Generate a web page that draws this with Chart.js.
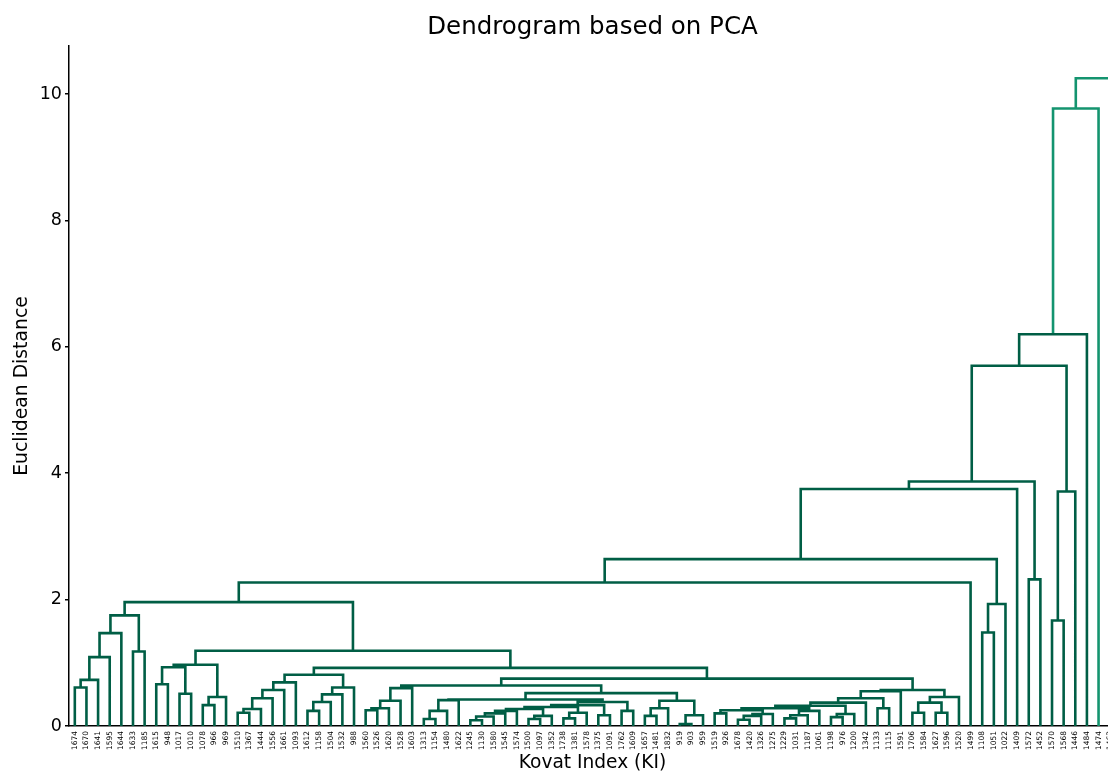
<!DOCTYPE html>
<html>
<head>
<meta charset="UTF-8">
<title>Dendrogram based on PCA</title>
<script src="https://cdn.jsdelivr.net/npm/chart.js@4.4.0/dist/chart.umd.min.js"></script>
<style>
html, body {
  margin: 0;
  padding: 0;
  overflow: hidden;
  background: #fff;
}
canvas {
  display: block;
}
</style>
</head>
<body>
<canvas id="myChart" width="1130" height="774"></canvas>
<script>
// Leaf labels (Kovat index), in dendrogram order from left to right
var leafLabels = [
"1674","1670","1641","1595","1644","1633","1185","1615","948","1017",
"1010","1078","966","969","1510","1367","1444","1556","1661","1093",
"1612","1158","1504","1532","988","1560","1526","1620","1528","1603",
"1313","1154","1480","1622","1245","1130","1580","1545","1574","1500",
"1097","1352","1738","1381","1578","1375","1091","1762","1609","1657",
"1481","1832","919","903","959","1519","926","1678","1420","1326",
"1275","1229","1031","1187","1061","1198","976","1200","1342","1133",
"1115","1591","1706","1584","1627","1596","1520","1499","1108","1051",
"1022","1409","1572","1452","1570","1568","1446","1484","1474","1463"];

// Merges as [left node, right node, distance].
// Nodes 0-89 are leaves, node 90+k is the cluster made by merges[k].
var merges = [
[0,1,0.61],[90,2,0.73],[91,3,1.09],[92,4,1.47],[5,6,1.18],[93,94,1.75],
[7,8,0.66],[9,10,0.51],[96,97,0.93],[11,12,0.33],[99,13,0.46],[98,100,0.97],
[14,15,0.21],[102,16,0.27],[103,17,0.44],[104,18,0.57],[105,19,0.69],
[20,21,0.24],[107,22,0.38],[108,23,0.50],[109,24,0.61],[106,110,0.81],
[25,26,0.25],[112,27,0.28],[113,28,0.40],[114,29,0.60],
[30,31,0.11],[116,32,0.24],[117,33,0.41],
[34,35,0.09],[119,36,0.15],[120,37,0.20],[121,38,0.24],
[39,40,0.11],[123,41,0.16],
[42,43,0.12],[125,44,0.21],
[45,46,0.17],
[47,48,0.24],
[122,124,0.27],[129,126,0.30],[130,127,0.33],[131,128,0.38],[118,132,0.42],
[49,50,0.16],[134,51,0.28],[52,53,0.03],[136,54,0.17],[135,137,0.40],
[133,138,0.52],[115,139,0.64],
[55,56,0.20],[57,58,0.10],[142,59,0.16],[143,60,0.19],[141,144,0.25],
[61,62,0.12],[146,63,0.17],[147,64,0.24],[145,148,0.28],
[65,66,0.14],[150,67,0.19],[149,151,0.32],[152,68,0.37],
[69,70,0.28],[153,154,0.44],[155,71,0.55],
[72,73,0.21],[74,75,0.21],[157,158,0.37],[159,76,0.46],[156,160,0.57],
[140,161,0.75],[111,162,0.92],[101,163,1.19],[95,164,1.96],
[165,77,2.27],[78,79,1.48],[167,80,1.93],[166,168,2.64],[169,81,3.75],
[82,83,2.32],[170,171,3.87],[84,85,1.67],[173,86,3.71],[172,174,5.70],
[175,87,6.20],[176,88,9.77],[177,89,10.25]];

var yTicks = [0, 2, 4, 6, 8, 10];
var chartTitle = "Dendrogram based on PCA";

// links from this merge on are drawn in the lighter colour
var lightFrom = 87;
var darkColor = "#005e45";
var lightColor = "#14946f";

// Work out link shapes: leaf i sits at 5 + 10*i, a cluster sits midway
var nodeX = [];
var nodeY = [];
for (var i = 0; i < leafLabels.length; i++) {
    nodeX.push(5 + 10 * i);
    nodeY.push(0);
}
var darkLinks = [];
var lightLinks = [];
for (var k = 0; k < merges.length; k++) {
    var a = merges[k][0], b = merges[k][1], h = merges[k][2];
    var seg = [
        {x: nodeX[a], y: nodeY[a]},
        {x: nodeX[a], y: h},
        {x: nodeX[b], y: h},
        {x: nodeX[b], y: nodeY[b]},
        {x: nodeX[b], y: null}   // gap before the next link
    ];
    nodeX.push((nodeX[a] + nodeX[b]) / 2);
    nodeY.push(h);
    var target = k >= lightFrom ? lightLinks : darkLinks;
    for (var j = 0; j < seg.length; j++) target.push(seg[j]);
}

// title centred over the plot area, like matplotlib does
var titlePlugin = {
    id: 'plotTitle',
    afterDraw: function(chart) {
        var ctx = chart.ctx, area = chart.chartArea;
        ctx.save();
        ctx.font = '24.5px "DejaVu Sans"';
        ctx.fillStyle = '#000';
        ctx.textAlign = 'center';
        ctx.textBaseline = 'middle';
        ctx.fillText(chartTitle, (area.left + area.right) / 2, 28);
        ctx.restore();
    }
};

function linkSet(points, color) {
    return {
        data: points,
        showLine: true,
        spanGaps: false,
        borderColor: color,
        borderWidth: 2.6,
        borderJoinStyle: 'miter',
        borderCapStyle: 'butt',
        pointRadius: 0,
        pointHoverRadius: 0,
        fill: false,
        tension: 0
    };
}

new Chart(document.getElementById("myChart"), {
    type: 'scatter',
    data: {
        datasets: [linkSet(darkLinks, darkColor), linkSet(lightLinks, lightColor)]
    },
    options: {
        responsive: false,
        animation: false,
        layout: {padding: {top: 46, right: 14, left: 0, bottom: 0}},
        plugins: {
            legend: {display: false},
            tooltip: {enabled: false}
        },
        scales: {
            x: {
                type: 'linear',
                min: 0,
                max: leafLabels.length * 10,
                afterBuildTicks: function(axis) {
                    axis.ticks = leafLabels.map(function(l, i) { return {value: 5 + 10 * i}; });
                },
                afterFit: function(axis) { axis.height = 48; },
                ticks: {
                    autoSkip: false,
                    minRotation: 90,
                    maxRotation: 90,
                    padding: 5,
                    color: '#000',
                    font: {size: 7.5, family: 'DejaVu Sans'},
                    callback: function(v, i) { return leafLabels[i]; }
                },
                grid: {drawOnChartArea: false, drawTicks: false},
                border: {display: true, color: '#000', width: 1.5},
                title: {
                    display: true,
                    text: 'Kovat Index (KI)',
                    color: '#000',
                    font: {size: 18.6, family: 'DejaVu Sans'},
                    padding: {top: 0, bottom: 0}
                }
            },
            y: {
                type: 'linear',
                min: 0,
                max: 10.76,
                afterBuildTicks: function(axis) {
                    axis.ticks = yTicks.map(function(v) { return {value: v}; });
                },
                afterFit: function(axis) { axis.width = 69; },
                ticks: {
                    padding: 3,
                    color: '#000',
                    font: {size: 17.5, family: 'DejaVu Sans'}
                },
                grid: {drawOnChartArea: false, drawTicks: true, tickLength: 4, color: '#000', lineWidth: 1.5},
                border: {display: true, color: '#000', width: 1.5},
                title: {
                    display: true,
                    text: 'Euclidean Distance',
                    color: '#000',
                    font: {size: 18.8, family: 'DejaVu Sans'},
                    padding: {top: 11, bottom: 0}
                }
            }
        }
    },
    plugins: [titlePlugin]
});
</script>
</body>
</html>
